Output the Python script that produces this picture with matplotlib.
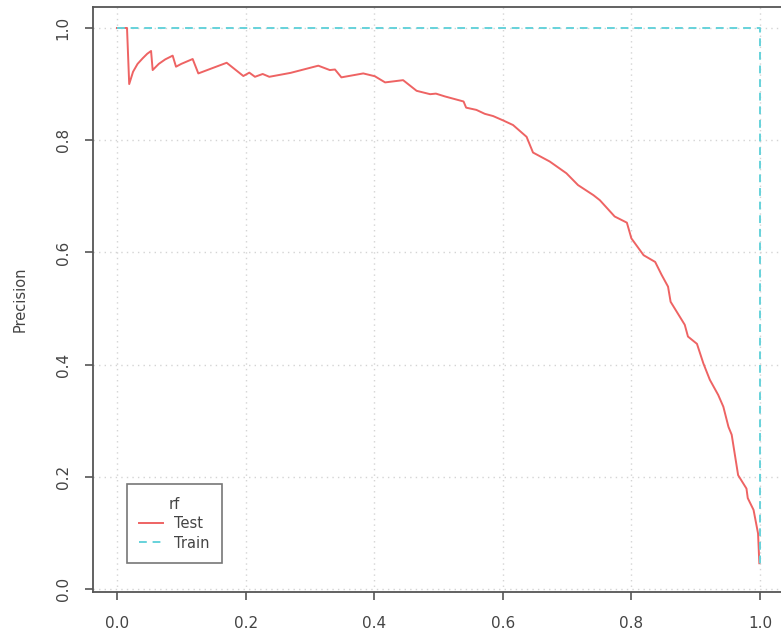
import matplotlib
matplotlib.use("Agg")
import matplotlib.pyplot as plt

# Test precision-recall curve (rf)
test_recall = [0.0, 0.0156, 0.019, 0.025, 0.032, 0.040, 0.047, 0.053, 0.0555, 0.065, 0.075,
               0.0866, 0.0918, 0.100, 0.1177, 0.1265, 0.145, 0.1706, 0.1965, 0.2058, 0.2146,
               0.2266, 0.2369, 0.27, 0.3131, 0.331, 0.339, 0.349, 0.383, 0.401, 0.417, 0.445,
               0.466, 0.487, 0.496, 0.510, 0.539, 0.543, 0.559, 0.572, 0.585, 0.601, 0.616,
               0.637, 0.647, 0.673, 0.699, 0.717, 0.741, 0.751, 0.774, 0.793, 0.800, 0.819,
               0.837, 0.847, 0.857, 0.861, 0.883, 0.888, 0.902, 0.912, 0.922, 0.935, 0.943,
               0.951, 0.956, 0.966, 0.979, 0.981, 0.990, 0.997, 0.999]
test_precision = [1.0, 1.0, 0.900, 0.922, 0.936, 0.946, 0.954, 0.959, 0.925, 0.936, 0.944,
                  0.9507, 0.931, 0.936, 0.9447, 0.919, 0.927, 0.938, 0.9144, 0.9204, 0.913,
                  0.918, 0.913, 0.920, 0.9328, 0.925, 0.926, 0.912, 0.919, 0.914, 0.903, 0.907,
                  0.888, 0.882, 0.883, 0.878, 0.869, 0.858, 0.854, 0.847, 0.843, 0.835, 0.827,
                  0.806, 0.778, 0.762, 0.741, 0.720, 0.702, 0.693, 0.664, 0.653, 0.625, 0.595,
                  0.583, 0.560, 0.539, 0.512, 0.471, 0.450, 0.437, 0.402, 0.373, 0.346, 0.325,
                  0.289, 0.275, 0.203, 0.179, 0.162, 0.141, 0.099, 0.046]

# Train precision-recall curve
train_recall = [0.0, 1.0, 1.0]
train_precision = [1.0, 1.0, 0.037]

x_ticks = [0.0, 0.2, 0.4, 0.6, 0.8, 1.0]
y_ticks = [0.0, 0.2, 0.4, 0.6, 0.8, 1.0]
tick_labels = ["0.0", "0.2", "0.4", "0.6", "0.8", "1.0"]

TEST_COLOR = "#EE6363"
TRAIN_COLOR = "#66D2DA"
AX_COLOR = "#555555"
TXT_COLOR = "#444444"

fig = plt.figure(figsize=(7.81, 6.36), dpi=100)
ax = fig.add_axes([93 / 781, 44 / 636, 692.7 / 781, 585 / 636])

ax.plot(test_recall, test_precision, color=TEST_COLOR, lw=1.4, label="Test", zorder=3)
ax.plot(train_recall, train_precision, color=TRAIN_COLOR, lw=1.4, ls=(0, (4, 3)),
        label="Train", zorder=4)

ax.set_xlim(-0.0373, 1.04)
ax.set_ylim(-0.0053, 1.0374)
ax.set_xticks(x_ticks)
ax.set_xticklabels(tick_labels)
ax.set_yticks(y_ticks)
ax.set_yticklabels(tick_labels, rotation=90, va="center")

ax.grid(True, color="#d4d4d4", ls=(0, (1, 3)), lw=1.0, zorder=0)

for side in ["left", "top", "bottom"]:
    ax.spines[side].set_color(AX_COLOR)
    ax.spines[side].set_linewidth(1.3)
ax.spines["right"].set_visible(False)

ax.tick_params(axis="both", colors=AX_COLOR, length=6, width=1.2, labelsize=11,
               labelcolor=TXT_COLOR)
ax.tick_params(axis="x", pad=11)
ax.tick_params(axis="y", pad=10)

ax.set_ylabel("Precision", fontsize=10.5, color=TXT_COLOR, labelpad=20)

leg = ax.legend(title="rf", loc="lower left", bbox_to_anchor=(0.049, 0.0496),
                borderaxespad=0, fancybox=False, frameon=True, fontsize=10.5,
                title_fontsize=10.5, handlelength=1.6, handletextpad=0.8,
                borderpad=0.85, labelspacing=0.3)
leg.get_frame().set_edgecolor(AX_COLOR)
leg.get_frame().set_linewidth(1.2)
leg.get_title().set_color(TXT_COLOR)
for t in leg.get_texts():
    t.set_color(TXT_COLOR)

fig.savefig("out.png", dpi=100)
